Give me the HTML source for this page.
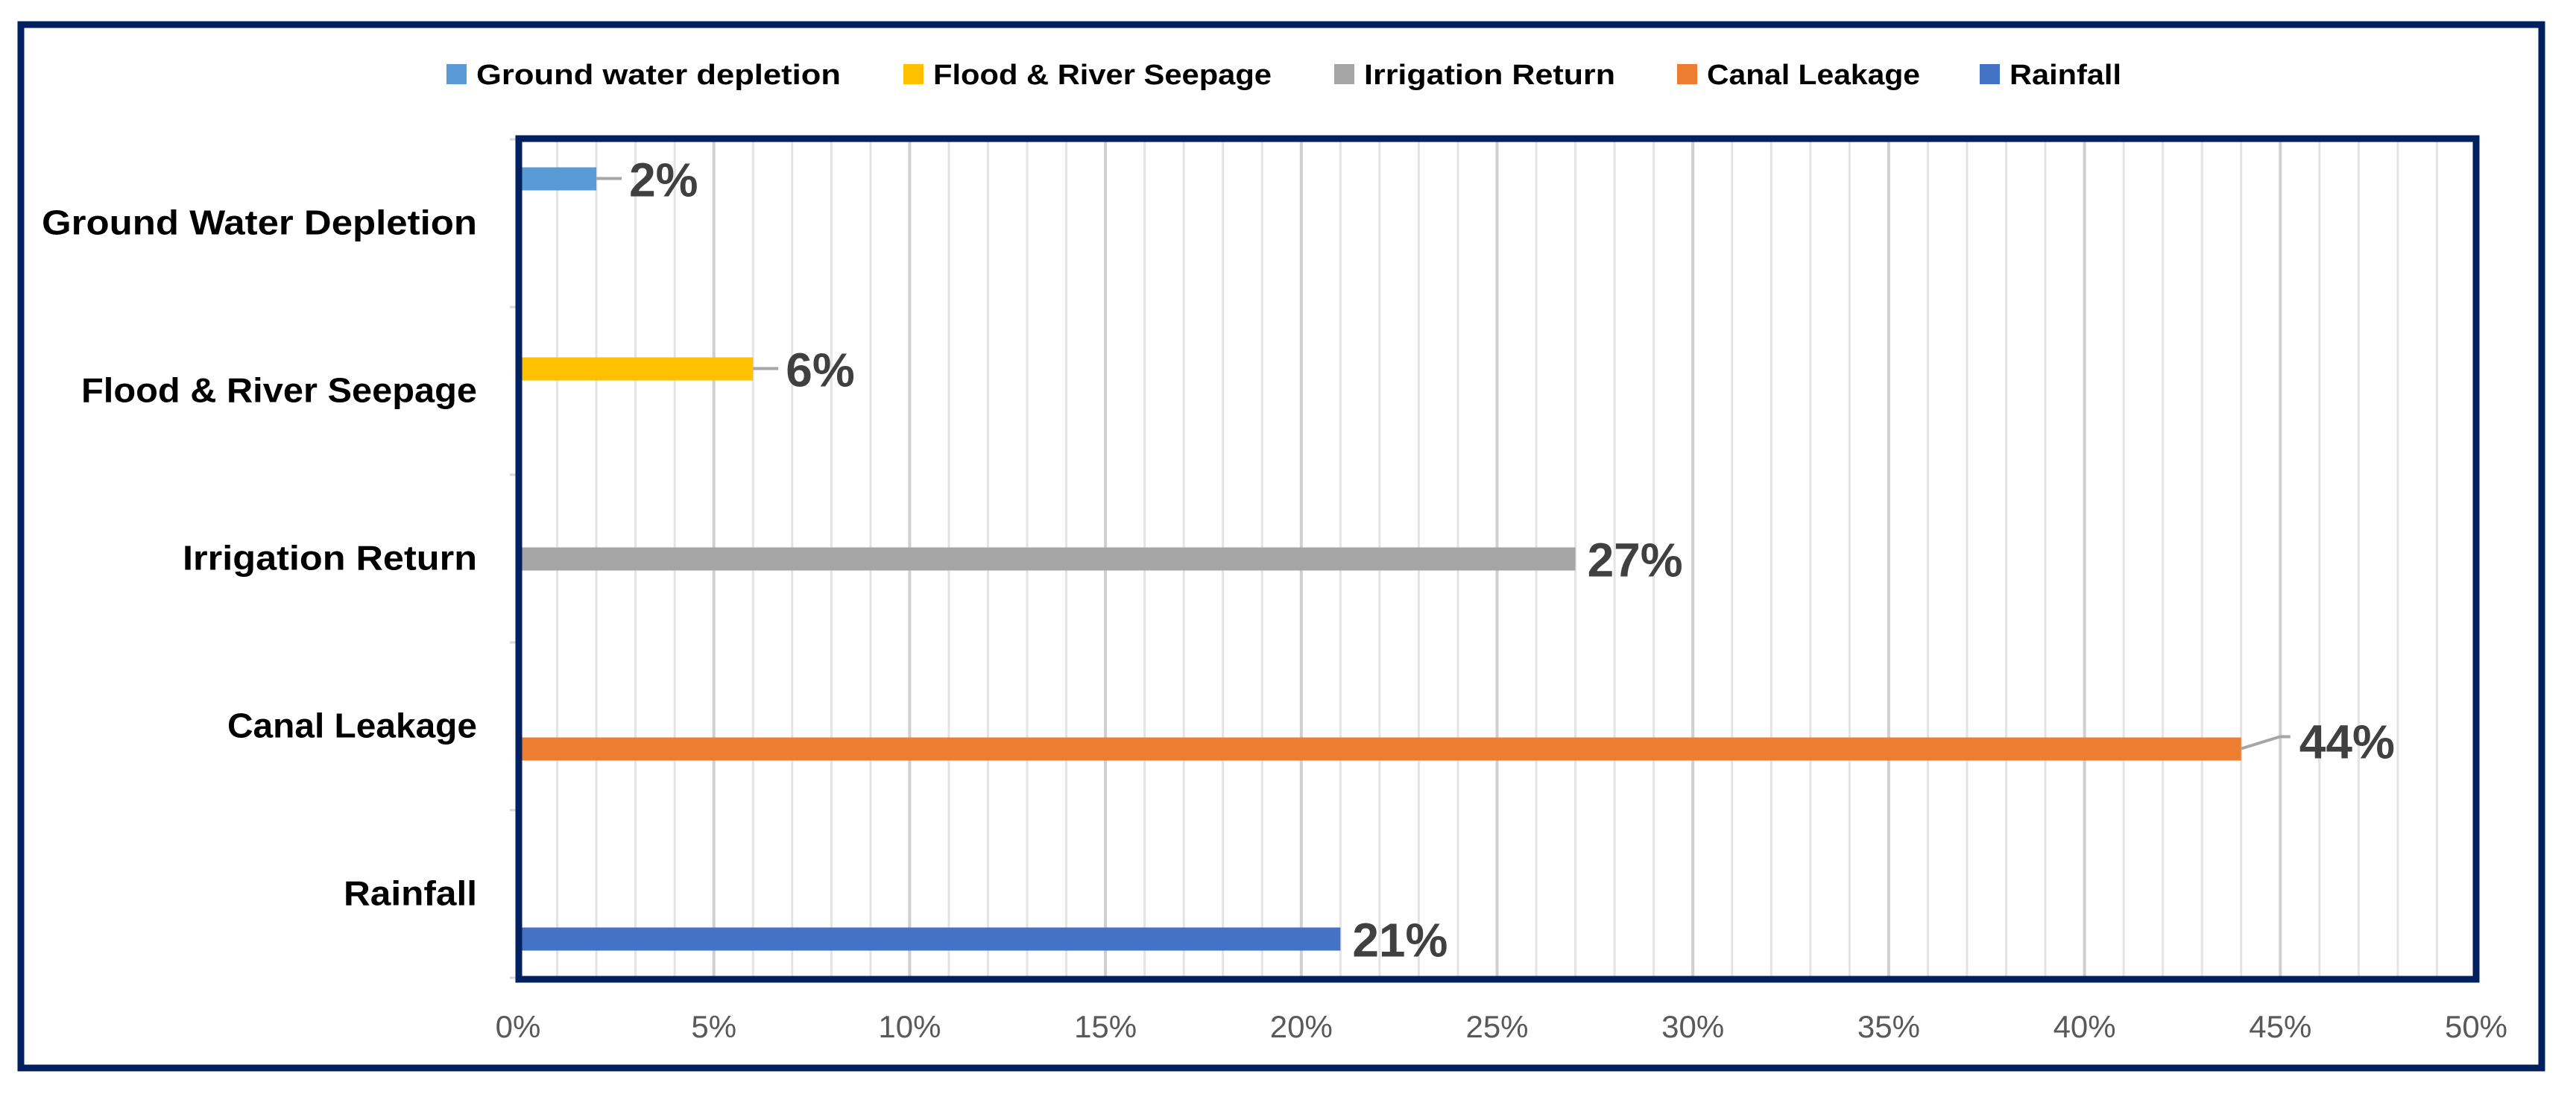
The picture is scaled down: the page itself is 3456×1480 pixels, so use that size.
<!DOCTYPE html>
<html><head><meta charset="utf-8"><style>
html,body{margin:0;padding:0;background:#fff;width:3456px;height:1480px;overflow:hidden}
svg{display:block}
text{font-family:"Liberation Sans",sans-serif}
</style></head><body>
<svg id="chart" width="3456" height="1480" viewBox="0 0 3456 1480" xmlns="http://www.w3.org/2000/svg">
<rect x="28" y="33" width="3382" height="1400" fill="#fff" stroke="#002060" stroke-width="9"/>
<g id="legend"></g>
<g id="grid"></g>
<g id="bars"></g>
<rect x="696" y="186" width="2626" height="1128" fill="none" stroke="#002060" stroke-width="9"/>
<g id="ylabels"></g>
<g id="xlabels"></g>
<g id="dlabels"></g>
</svg>
<script>
const categories = ["Ground Water Depletion","Flood & River Seepage","Irrigation Return","Canal Leakage","Rainfall"];
const seriesNames = ["Ground water depletion","Flood & River Seepage","Irrigation Return","Canal Leakage","Rainfall"];
const values = [2, 6, 27, 44, 21];
const xTicks = [0,5,10,15,20,25,30,35,40,45,50];
const colors = ["#5b9bd5","#ffc000","#a5a5a5","#ed7d31","#4472c4"];

const NS="http://www.w3.org/2000/svg";
const X0=695, X1=3322, Y0=187, Y1=1312, XMAX=50;
const x=v=>X0+(v/XMAX)*(X1-X0);
const band=(Y1-Y0)/categories.length;
const yBand=i=>Y0+i*band;
function mk(tag,attrs,parent){const e=document.createElementNS(NS,tag);for(const k in attrs)e.setAttribute(k,attrs[k]);parent.appendChild(e);return e;}
const grid=document.getElementById('grid');
for(let v=1;v<=XMAX;v++){
  const l=mk('line',{x1:x(v),x2:x(v),y1:Y0,y2:Y1,stroke:v%5===0?'#cfcfcf':'#e3e3e3','stroke-width':v%5===0?4:3},grid);
  
  
}
for(let i=0;i<=categories.length;i++){
  const t=mk('line',{x1:684,x2:696,y1:yBand(i),y2:yBand(i),stroke:'#d9d9d9','stroke-width':3},grid);
  
  
}
const lg=document.getElementById('legend');
const legX=[599,1212,1790,2250,2656], legW=[489,454,337,286,150];
seriesNames.forEach((n,i)=>{
  const g=mk('g',{},lg);
  
  
  mk('rect',{x:legX[i],y:86,width:27,height:27,fill:colors[i]},g);
  const t=mk('text',{x:legX[i]+40,y:113,'font-size':38,'font-weight':'bold',fill:'#000',textLength:legW[i],lengthAdjust:'spacingAndGlyphs'},g);
  t.textContent=n;
});
const bars=document.getElementById('bars'), dl=document.getElementById('dlabels');
const slot=30, groupOff=(band-slot*5)/2;
values.forEach((v,i)=>{
  const y=yBand(i)+groupOff+i*slot;
  const b=mk('rect',{x:x(0),y:y,width:x(v)-x(0),height:slot+1,fill:colors[i]},bars);
  
  
  const cy=y+slot/2;
  const leader=(i!==2 && i!==4);
  const lx=x(v)+(leader?(i===3?78:44):16);
  if(leader){
    const pts=i===3?`${x(v)},${cy} ${x(v)+52},${cy-16} ${x(v)+66},${cy-16}`:`${x(v)},${cy} ${x(v)+34},${cy}`;
    const pl=mk('polyline',{points:pts,fill:'none',stroke:'#a6a6a6','stroke-width':4},dl);
    
    
  }
  const t=mk('text',{x:lx,y:cy+(i===3?13:24),'font-size':64,'font-weight':'bold',fill:'#404040'},dl);
  
  
  t.textContent=v+'%';
});
const yl=document.getElementById('ylabels');
const yLabW=[584,531,395,335,179];
categories.forEach((c,i)=>{
  const t=mk('text',{x:640,y:yBand(i)+band/2+15,'font-size':46,'font-weight':'bold','text-anchor':'end',fill:'#000',textLength:yLabW[i],lengthAdjust:'spacingAndGlyphs'},yl);
  
  
  t.textContent=c;
});
const xl=document.getElementById('xlabels');
xTicks.forEach(v=>{
  const t=mk('text',{x:x(v),y:1392,'font-size':42,'text-anchor':'middle',fill:'#595959'},xl);
  
  
  t.textContent=v+'%';
});
</script>
</body></html>
